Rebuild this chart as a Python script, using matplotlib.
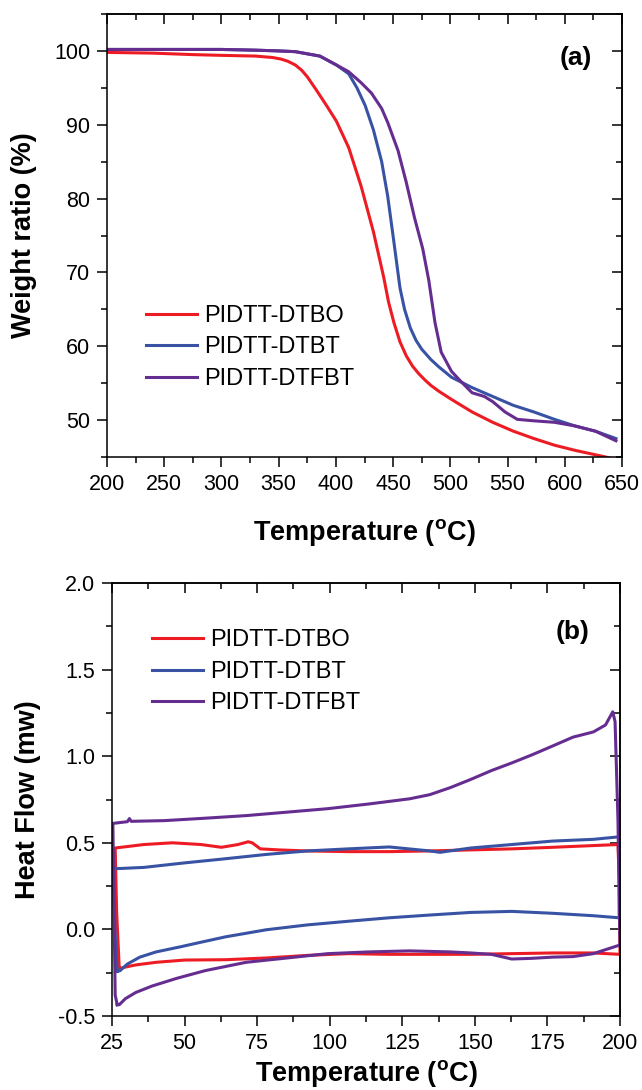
import matplotlib
matplotlib.use("Agg")
import matplotlib.pyplot as plt
from matplotlib.ticker import MultipleLocator, FormatStrFormatter

plt.rcParams['font.family'] = ['Liberation Sans', 'DejaVu Sans']
plt.rcParams['mathtext.fontset'] = 'custom'
plt.rcParams['mathtext.rm'] = 'Liberation Sans'
plt.rcParams['mathtext.bf'] = 'Liberation Sans:bold'
plt.rcParams['mathtext.default'] = 'regular'
plt.rcParams['axes.unicode_minus'] = False

series_names = ["PIDTT-DTBO", "PIDTT-DTBT", "PIDTT-DTFBT"]
colors = ["#ED1C24", "#3953A4", "#662D91"]

# ---- (a) TGA: temperature (C) vs weight ratio (%) ----
tga_dtbo_T = [200, 240, 275, 300, 330, 345, 352, 358, 364.5, 370, 375, 382.5, 391, 400.4, 411.2, 422,
              432.8, 441.7, 446, 450.7, 456, 461.5, 467, 472.3, 478, 483, 490, 501, 519, 537, 555, 573,
              591, 609, 635.7, 645]
tga_dtbo_W = [99.8, 99.7, 99.5, 99.4, 99.3, 99.1, 98.9, 98.6, 98.1, 97.4, 96.5, 94.8, 92.8, 90.5, 86.9,
              81.7, 75.5, 69.4, 66.0, 63.2, 60.6, 58.7, 57.3, 56.3, 55.4, 54.7, 53.9, 52.8, 51.1, 49.7,
              48.5, 47.5, 46.6, 45.9, 45.0, 44.6]

tga_dtbt_T = [200, 250, 300, 330, 350, 364.5, 386, 400.4, 411.2, 418.4, 425.6, 432.8, 440, 445.3,
              450.7, 456, 460, 465, 470, 475, 483, 490, 501, 519, 537, 555, 573, 591, 609, 626.7, 644.7]
tga_dtbt_W = [100.2, 100.2, 100.2, 100.1, 100.0, 99.9, 99.3, 98.1, 96.9, 95.0, 92.6, 89.3, 85.0, 80.3,
              74.1, 67.9, 65.0, 62.5, 60.8, 59.6, 58.2, 57.2, 55.8, 54.4, 53.2, 52.0, 51.1, 50.1, 49.2,
              48.5, 47.5]

tga_dtfbt_T = [200, 250, 300, 330, 350, 364.5, 386, 400.4, 411, 422, 431, 440, 445.3, 454.3, 461.5,
               468.7, 475.9, 481.2, 486.6, 492, 501, 508.2, 519, 529.7, 537, 547.8, 558.5, 573, 591,
               609, 626.7, 644.7]
tga_dtfbt_W = [100.2, 100.2, 100.2, 100.1, 100.0, 99.9, 99.3, 98.1, 97.2, 95.7, 94.3, 92.2, 90.3, 86.5,
               82.2, 77.4, 73.2, 68.9, 63.2, 59.2, 56.6, 55.4, 53.7, 53.2, 52.5, 51.1, 50.1, 49.9, 49.7,
               49.2, 48.5, 47.2]

# ---- (b) DSC loops: temperature (C) vs heat flow (mw) ----
dsc_dtbo_T = [27.5, 26.6, 26.1, 36, 45.8, 55.7, 62.7, 68.4, 71.9, 73.3, 76.1, 82.4, 92.3, 106.4, 120.5,
              134.5, 148.6, 162.7, 176.8, 190.8, 199.3, 199.7, 200, 190.8, 176.8, 162.7, 148.6, 134.5,
              120.5, 106.4, 92.3, 78.2, 64.1, 50, 40.2, 33.2, 28.9, 27.5]
dsc_dtbo_H = [-0.226, 0.10, 0.47, 0.49, 0.50, 0.49, 0.474, 0.49, 0.506, 0.50, 0.465, 0.459, 0.453, 0.449,
              0.449, 0.453, 0.459, 0.465, 0.474, 0.484, 0.49, 0.30, -0.144, -0.136, -0.136, -0.14, -0.144,
              -0.144, -0.144, -0.14, -0.15, -0.165, -0.175, -0.177, -0.19, -0.205, -0.22, -0.226]

dsc_dtbt_T = [26.8, 26.0, 25.6, 36, 50, 64.1, 78.2, 92.3, 106.4, 120.5, 134.5, 138, 148.6, 162.7,
              176.8, 190.8, 200, 199.7, 190.8, 176.8, 162.7, 148.6, 134.5, 120.5, 106.4, 92.3, 78.2,
              64.1, 54.3, 48.7, 40.2, 34.6, 30.3, 27.8, 26.8]
dsc_dtbt_H = [-0.242, 0.0, 0.35, 0.358, 0.384, 0.408, 0.433, 0.453, 0.465, 0.476, 0.453, 0.445, 0.47,
              0.49, 0.51, 0.52, 0.535, 0.067, 0.079, 0.093, 0.104, 0.098, 0.083, 0.067, 0.047, 0.026,
              -0.002, -0.043, -0.079, -0.1, -0.13, -0.16, -0.2, -0.238, -0.242]

dsc_dtfbt_T = [26.8, 26.1, 25.6, 25.3, 30.3, 31.0, 31.6, 43, 57.1, 71.2, 85.3, 99.3, 113.4, 127.5, 134.5,
               141.6, 148.6, 155.7, 162.7, 169.7, 176.8, 183.8, 190.8, 195, 197.5, 198.3, 199.3, 200,
               190.8, 183.8, 176.8, 169.7, 162.7, 155.7, 148.6, 141.6, 127.5, 113.4, 99.3, 85.3, 71.2,
               57.1, 47.2, 38.8, 33.2, 29.6, 27.5, 26.8]
dsc_dtfbt_H = [-0.435, -0.38, 0.225, 0.612, 0.622, 0.64, 0.624, 0.628, 0.642, 0.657, 0.677, 0.697, 0.724,
               0.754, 0.778, 0.819, 0.866, 0.917, 0.961, 1.008, 1.059, 1.11, 1.14, 1.18, 1.256, 1.20,
               0.63, -0.09, -0.14, -0.157, -0.16, -0.167, -0.171, -0.144, -0.136, -0.13, -0.124, -0.13,
               -0.14, -0.165, -0.19, -0.238, -0.283, -0.327, -0.364, -0.4, -0.435, -0.435]

W, H = 642, 1090
fig = plt.figure(figsize=(W / 100, H / 100), dpi=100)

def px_axes(l, r, t, b):
    return fig.add_axes([l / W, 1 - b / H, (r - l) / W, (b - t) / H])

ax1 = px_axes(107, 622, 14, 457)
ax2 = px_axes(112, 620, 583, 1016)

lw = 2.2
for T, Wt, c, n in zip([tga_dtbo_T, tga_dtbt_T, tga_dtfbt_T],
                       [tga_dtbo_W, tga_dtbt_W, tga_dtfbt_W], colors, series_names):
    ax1.plot(T, Wt, color=c, lw=lw, label=n, solid_joinstyle='round')
for T, Hf, c, n in zip([dsc_dtbo_T, dsc_dtbt_T, dsc_dtfbt_T],
                       [dsc_dtbo_H, dsc_dtbt_H, dsc_dtfbt_H], colors, series_names):
    ax2.plot(T, Hf, color=c, lw=lw, label=n, solid_joinstyle='round')

ax1.set_xlim(200, 650)
ax1.set_ylim(45, 105)
ax2.set_xlim(25, 200)
ax2.set_ylim(-0.5, 2.0)

tick_fs = 15.5
label_fs = 19.5

def style(ax, xmaj, xmin, ymaj, ymin, yfmt):
    for s in ax.spines.values():
        s.set_linewidth(1.1)
    ax.xaxis.set_major_locator(MultipleLocator(xmaj))
    ax.xaxis.set_minor_locator(MultipleLocator(xmin))
    ax.yaxis.set_major_locator(MultipleLocator(ymaj))
    ax.yaxis.set_minor_locator(MultipleLocator(ymin))
    ax.yaxis.set_major_formatter(FormatStrFormatter(yfmt))
    ax.tick_params(which='both', direction='out', top=False, right=False, width=1.1,
                   labelsize=tick_fs, pad=5)
    ax.tick_params(which='major', length=7.2)
    ax.tick_params(which='minor', length=4)
    tx = ax.secondary_xaxis('top')
    tx.xaxis.set_major_locator(MultipleLocator(xmaj))
    tx.xaxis.set_minor_locator(MultipleLocator(xmin))
    tx.tick_params(which='both', direction='in', labeltop=False, width=1.1)
    tx.tick_params(which='major', length=7.2)
    tx.tick_params(which='minor', length=4)
    tx.spines['top'].set_linewidth(1.1)
    ty = ax.secondary_yaxis('right')
    ty.yaxis.set_major_locator(MultipleLocator(ymaj))
    ty.yaxis.set_minor_locator(MultipleLocator(ymin))
    ty.tick_params(which='both', direction='in', labelright=False, width=1.1)
    ty.tick_params(which='major', length=7.2)
    ty.tick_params(which='minor', length=4)
    ty.spines['right'].set_linewidth(1.1)

style(ax1, 50, 25, 10, 5, '%d')
style(ax2, 25, 12.5, 0.5, 0.25, '%.1f')

xl = r'Temperature ($\mathregular{^o}$C)'
ax1.set_xlabel(xl, fontsize=label_fs, fontweight='bold', labelpad=16)
ax2.set_xlabel(xl, fontsize=label_fs, fontweight='bold', labelpad=3)
ax1.set_ylabel('Weight ratio (%)', fontsize=label_fs, fontweight='bold', labelpad=12)
ax2.set_ylabel('Heat Flow (mw)', fontsize=label_fs, fontweight='bold', labelpad=12)

leg_kw = dict(frameon=False, fontsize=17, handlelength=2.15, handletextpad=0.3,
              labelspacing=0.4, borderpad=0, borderaxespad=0, loc='upper left')
ax1.legend(bbox_to_anchor=(0.0757, 0.343), **leg_kw)
ax2.legend(bbox_to_anchor=(0.0787, 0.893), **leg_kw)

ax1.text(0.911, 0.90, '(a)', transform=ax1.transAxes, fontsize=19, fontweight='bold',
         ha='center', va='center')
ax2.text(0.906, 0.887, '(b)', transform=ax2.transAxes, fontsize=19, fontweight='bold',
         ha='center', va='center')

fig.savefig('out.png', dpi=100)
